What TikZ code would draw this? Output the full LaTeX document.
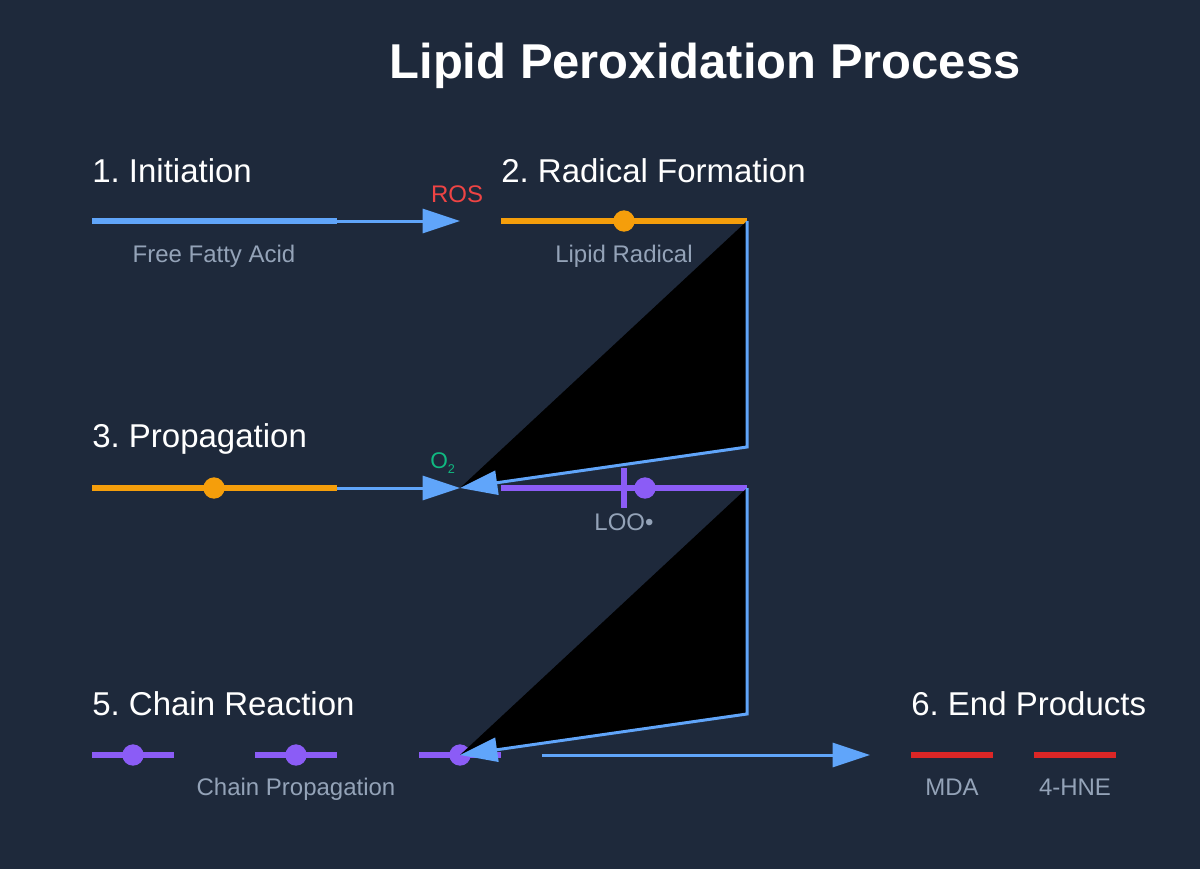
\documentclass[tikz,border=0pt]{standalone}
\usepackage{fontspec}
\setmainfont{Liberation Sans}
\usetikzlibrary{arrows.meta}
\frenchspacing
\definecolor{bgnavy}{HTML}{1E293B}
\definecolor{flowblue}{HTML}{60A5FA}
\definecolor{lipidorange}{HTML}{F59E0B}
\definecolor{radpurple}{HTML}{8B5CF6}
\definecolor{prodred}{HTML}{DC2626}
\definecolor{labelgray}{HTML}{94A3B8}
\definecolor{rosred}{HTML}{EF4444}
\definecolor{oxgreen}{HTML}{10B981}
\tikzset{
  heading/.style={anchor=base west, text=white, inner sep=0pt, font=\fontsize{24.75}{28}\selectfont},
  sublabel/.style={anchor=base, text=labelgray, inner sep=0pt, font=\fontsize{18}{22}\selectfont},
  chain/.style={line width=4.5pt},
  flow/.style={flowblue, line width=2.25pt, -{Triangle[length=28pt,width=18pt]}},
  dotmark/.style={circle, fill=#1, inner sep=0pt, minimum size=16pt},
}
\begin{document}
\begin{tikzpicture}[x=0.75pt, y=-0.75pt]
  \useasboundingbox (0,0) rectangle (1200,869);
  \fill[bgnavy] (0,0) rectangle (1200,869);

  \node[anchor=base, text=white, inner sep=0pt, font=\fontsize{36.7}{40}\selectfont\bfseries] (title) at (705,78) {Lipid Peroxidation Process};

  % 1. Initiation
  \node[heading] (initH) at (92,182) {1. Initiation};
  \coordinate (ffaL) at (92,221);
  \coordinate (ffaR) at (337,221);
  \coordinate (rosTip) at (460,221);
  \draw[chain, flowblue] (ffaL) -- (ffaR);
  \draw[flow] (ffaR) -- (rosTip);
  \node[sublabel] (ffa) at (214,262) {Free Fatty Acid};
  \node[anchor=base, text=rosred, inner sep=0pt, font=\fontsize{18}{22}\selectfont] (ros) at (457,202) {ROS};

  % 2. Radical Formation
  \node[heading] (radH) at (501,182) {2. Radical Formation};
  \coordinate (lrL) at (501,221);
  \coordinate (lrR) at (747,221);
  \draw[chain, lipidorange] (lrL) -- (lrR);
  \node[dotmark=lipidorange] (lr) at (624,221) {};
  \node[sublabel] (lrLab) at (624,262) {Lipid Radical};

  % 3. Propagation
  \node[heading] (propH) at (92,447) {3. Propagation};
  \coordinate (prL) at (92,488);
  \coordinate (prR) at (337,488);
  \coordinate (oxTip) at (460,488);
  \draw[chain, lipidorange] (prL) -- (prR);
  \node[dotmark=lipidorange] (pr) at (214,488) {};
  \draw[flow] (prR) -- (oxTip);
  \node[anchor=base west, text=oxgreen, inner sep=0pt, font=\fontsize{17}{20}\selectfont] (ox) at (430,468) {O\raisebox{-0.45ex}{\fontsize{9.5}{11}\selectfont 2}};

  % LOO radical
  \coordinate (looL) at (501,488);
  \coordinate (looR) at (747,488);
  \draw[chain, radpurple] (looL) -- (looR);
  \draw[radpurple, line width=5pt] (624,468) -- (624,508);
  \node[dotmark=radpurple] (loo) at (645,488) {};
  \node[sublabel] (looLab) at (624,530) {LOO•};

  % feedback loops
  \coordinate (bendA) at (747,447);
  \coordinate (bendB) at (747,714);
  \fill[black] (lrR) -- (bendA) -- (oxTip) -- cycle;
  \draw[flow] (lrR) -- (bendA) -- (oxTip);

  % 5. Chain Reaction
  \node[heading] (chainH) at (92,715) {5. Chain Reaction};
  \foreach \x/\n in {133/1,296/2,460/3}{%
    \draw[chain, radpurple] (\x-41,755) -- (\x+41,755);
    \node[dotmark=radpurple] (C\n) at (\x,755) {};
  }
  \node[sublabel] (chainLab) at (296,795) {Chain Propagation};
  \fill[black] (looR) -- (bendB) -- (C3.center) -- cycle;
  \draw[flow] (looR) -- (bendB) -- (C3.center);

  % 6. End Products
  \node[heading] (endH) at (911,715) {6. End Products};
  \coordinate (endL) at (542,755);
  \coordinate (endTip) at (870,755);
  \draw[flow] (endL) -- (endTip);
  \foreach \x/\t in {952/MDA,1075/4-HNE}{%
    \draw[chain, prodred] (\x-41,755) -- (\x+41,755);
    \node[sublabel] (P\x) at (\x,795) {\t};
  }
\end{tikzpicture}
\end{document}
